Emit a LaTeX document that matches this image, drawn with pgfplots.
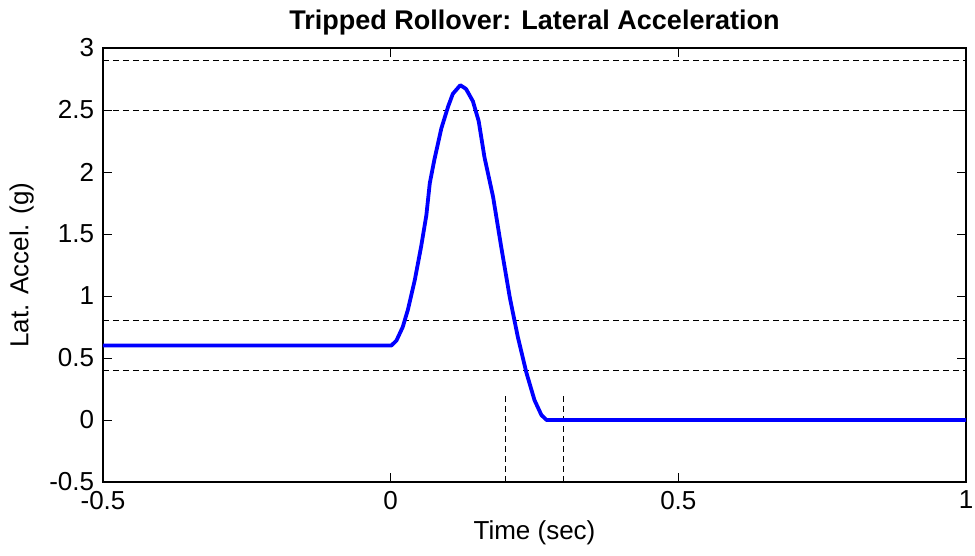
\documentclass[border=0pt]{standalone}
\usepackage{pgfplots}
\pgfplotsset{compat=1.18}
\usepackage{fontspec}
\setmainfont{Liberation Sans}
\begin{document}
\fontsize{26}{30}\selectfont
\begin{tikzpicture}
\useasboundingbox (-103pt,-74pt) rectangle (872pt,482pt);
\begin{axis}[
  at={(0,0)}, anchor=south west,
  scale only axis, width=863pt, height=434pt,
  xmin=-0.5, xmax=1, ymin=-0.5, ymax=3,
  xtick={-0.5,0,0.5,1}, ytick={-0.5,0,0.5,1,1.5,2,2.5,3},
  /pgf/number format/assume math mode=true,
  tick label style={font=\fontsize{26}{30}\selectfont},
  label style={font=\fontsize{26}{30}\selectfont},
  title style={font=\fontsize{27}{30}\selectfont\bfseries, yshift=-2pt},
  title={Tripped Rollover: Lateral Acceleration},
  xlabel={Time (sec)}, ylabel={Lat. Accel. (g)},
  tick align=inside, major tick length=9pt,
  tick style={black, line width=0.8pt},
  axis line style={line width=1.1pt},
  xlabel style={yshift=6pt},
  ylabel style={yshift=-2pt},
  clip=false,
]
\addplot[black, line width=0.8pt, dash pattern=on 6pt off 4pt] coordinates {(-0.5,2.9) (1,2.9)};
\addplot[black, line width=0.8pt, dash pattern=on 6pt off 4pt] coordinates {(-0.5,2.5) (1,2.5)};
\addplot[black, line width=0.8pt, dash pattern=on 6pt off 4pt] coordinates {(-0.5,0.8) (1,0.8)};
\addplot[black, line width=0.8pt, dash pattern=on 6pt off 4pt] coordinates {(-0.5,0.4) (1,0.4)};
\addplot[black, line width=0.8pt, dash pattern=on 6pt off 4pt] coordinates {(0.2,-0.5) (0.2,0.2)};
\addplot[black, line width=0.8pt, dash pattern=on 6pt off 4pt] coordinates {(0.3,-0.5) (0.3,0.2)};
\addplot[blue, line width=3.8pt, line join=round] coordinates {
(-0.5,0.6) (0.001,0.6) (0.010,0.64) (0.021,0.75) (0.030,0.89) (0.042,1.13)
(0.053,1.40) (0.062,1.65) (0.068,1.91) (0.076,2.10) (0.088,2.35) (0.100,2.53)
(0.108,2.63) (0.121,2.70) (0.131,2.67) (0.143,2.57) (0.153,2.41) (0.163,2.12)
(0.178,1.80) (0.192,1.40) (0.207,0.99) (0.221,0.67) (0.236,0.38) (0.250,0.16)
(0.262,0.04) (0.271,0.0) (1,0.0)
};
\end{axis}
\end{tikzpicture}
\end{document}
